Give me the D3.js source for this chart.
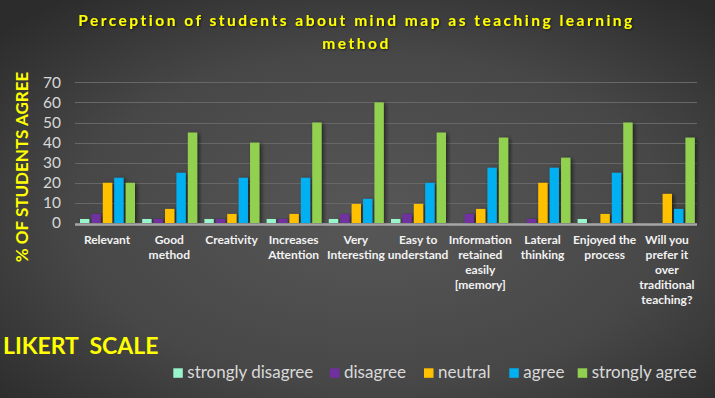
<!DOCTYPE html>
<html><head><meta charset="utf-8">
<script src="https://cdn.jsdelivr.net/npm/d3@7/dist/d3.min.js"></script>
<style>
html,body{margin:0;padding:0;background:#3a3a3a;}
svg{display:block;}
text{font-family:Lato,"Open Sans",sans-serif;}
</style></head>
<body>
<svg id="chart" width="715" height="398"></svg>
<script>
const categories = [
  ["Relevant"],
  ["Good","method"],
  ["Creativity"],
  ["Increases","Attention"],
  ["Very","Interesting"],
  ["Easy to","understand"],
  ["Information","retained","easily","[memory]"],
  ["Lateral","thinking"],
  ["Enjoyed the","process"],
  ["Will you","prefer it","over","traditional","teaching?"]
];
const seriesNames = ["strongly disagree","disagree","neutral","agree","strongly agree"];
const stronglyDisagree = [2, 2, 2, 2, 2, 2, 0, 0, 2, 0];
const disagree         = [4.5, 2, 2, 2, 4.5, 4.5, 4.5, 2, 0, 0];
const neutral          = [20, 7, 4.5, 4.5, 9.5, 9.5, 7, 20, 4.5, 14.5];
const agree            = [22.5, 25, 22.5, 22.5, 12, 20, 27.5, 27.5, 25, 7];
const stronglyAgree    = [20, 45, 40, 50, 60, 45, 42.5, 32.5, 50, 42.5];
const yTicks = [0,10,20,30,40,50,60,70];
const colors = ["#99f5cc","#7030a0","#ffc000","#00b0f0","#92d050"];

const seriesValues = [stronglyDisagree, disagree, neutral, agree, stronglyAgree];

const svg = d3.select("#chart");
const W = 715, H = 398;
const defs = svg.append("defs");
const grad = defs.append("radialGradient").attr("id","bg")
  .attr("cx","52%").attr("cy","55%").attr("r","70%");
grad.append("stop").attr("offset","0%").attr("stop-color","#575757");
grad.append("stop").attr("offset","60%").attr("stop-color","#474747");
grad.append("stop").attr("offset","100%").attr("stop-color","#2c2c2c");
const sh = defs.append("filter").attr("id","shadow").attr("x","-50%").attr("y","-10%").attr("width","200%").attr("height","120%");
sh.append("feDropShadow").attr("dx",2).attr("dy",1).attr("stdDeviation",2).attr("flood-color","#000").attr("flood-opacity",0.55);
const tsh = defs.append("filter").attr("id","tshadow").attr("x","-10%").attr("y","-30%").attr("width","120%").attr("height","160%");
tsh.append("feDropShadow").attr("dx",1).attr("dy",1).attr("stdDeviation",0.8).attr("flood-color","#000").attr("flood-opacity",0.6);

svg.append("rect").attr("width",W).attr("height",H).attr("fill","url(#bg)");

const pLeft = 75, pRight = 697, pTop = 82.3, pBottom = 223;
const x0 = d3.scaleBand().domain(d3.range(categories.length)).range([pLeft,pRight]).padding(0);
const x1 = d3.scaleBand().domain(d3.range(seriesNames.length)).range([5, 60]).paddingInner(0.18).paddingOuter(0);
const y = d3.scaleLinear().domain([0,70]).range([pBottom, pTop]);

// gridlines
svg.append("g").selectAll("line").data(yTicks.filter(t=>t>0)).join("line")
  .attr("x1",pLeft).attr("x2",pRight)
  .attr("y1",d=>Math.round(y(d))+0.5).attr("y2",d=>Math.round(y(d))+0.5)
  .attr("stroke","#676767").attr("stroke-width",1);

// y tick labels
const yAxis = d3.axisLeft(y).tickValues(yTicks).tickSize(0).tickPadding(0);
const ga = svg.append("g").attr("transform",`translate(${pLeft-14},0)`).call(yAxis);
ga.select(".domain").remove();
ga.selectAll("text").attr("fill","#d9d9d9").attr("font-size",15.5).attr("font-family","Lato, sans-serif");

// bars
const groups = svg.append("g").selectAll("g").data(categories).join("g")
  .attr("transform",(d,i)=>`translate(${x0(i)},0)`);
groups.selectAll("rect").data((d,i)=>seriesValues.map((s,k)=>({k, v:s[i]})).filter(e=>e.v>0)).join("rect")
  .attr("x",e=>x1(e.k)).attr("width",x1.bandwidth())
  .attr("y",e=>y(e.v)).attr("height",e=>pBottom-y(e.v))
  .attr("fill",e=>colors[e.k]).attr("filter","url(#shadow)");

// x axis line
svg.append("line").attr("x1",pLeft).attr("x2",pRight).attr("y1",pBottom+1.5).attr("y2",pBottom+1.5)
  .attr("stroke","#a6a6a6").attr("stroke-width",2.5);

// category labels
groups.append("text").attr("text-anchor","middle")
  .attr("fill","#f2f2f2").attr("font-size",12).attr("font-weight","bold")
  .selectAll("tspan").data(d=>d).join("tspan")
  .attr("x",x0.bandwidth()/2+1).attr("y",(d,j)=>243.5+j*15).text(d=>d);

// title
const title = svg.append("text").attr("text-anchor","middle").attr("fill","#ffff00")
  .attr("font-size",15.5).attr("font-weight","bold").attr("letter-spacing",2.5)
  .attr("filter","url(#tshadow)");
title.append("tspan").attr("x",356.5).attr("y",26).text("Perception of students about mind map as teaching learning");
title.append("tspan").attr("x",356.5).attr("y",48.5).text("method");

// y axis title
svg.append("text").attr("transform","translate(28,167) rotate(-90)").attr("text-anchor","middle")
  .attr("fill","#ffff00").attr("font-size",17).attr("font-weight","bold").text("% OF STUDENTS AGREE");

// LIKERT SCALE
svg.append("text").attr("x",3).attr("y",354).attr("fill","#ffff00").attr("font-size",23).attr("font-weight","bold")
  .style("white-space","pre").text("LIKERT  SCALE");

// legend
const legendX = [173.3, 330, 424, 509.3, 577.7];
const lg = svg.append("g").selectAll("g").data(seriesNames).join("g")
  .attr("transform",(d,i)=>`translate(${legendX[i]},368.3)`);
lg.append("rect").attr("x",0).attr("y",0).attr("width",9.5).attr("height",9.5).attr("fill",(d,i)=>colors[i]);
lg.append("text").attr("x",14).attr("y",9.3).attr("fill","#d9d9d9").attr("font-size",17).text(d=>d);
</script>
</body></html>
